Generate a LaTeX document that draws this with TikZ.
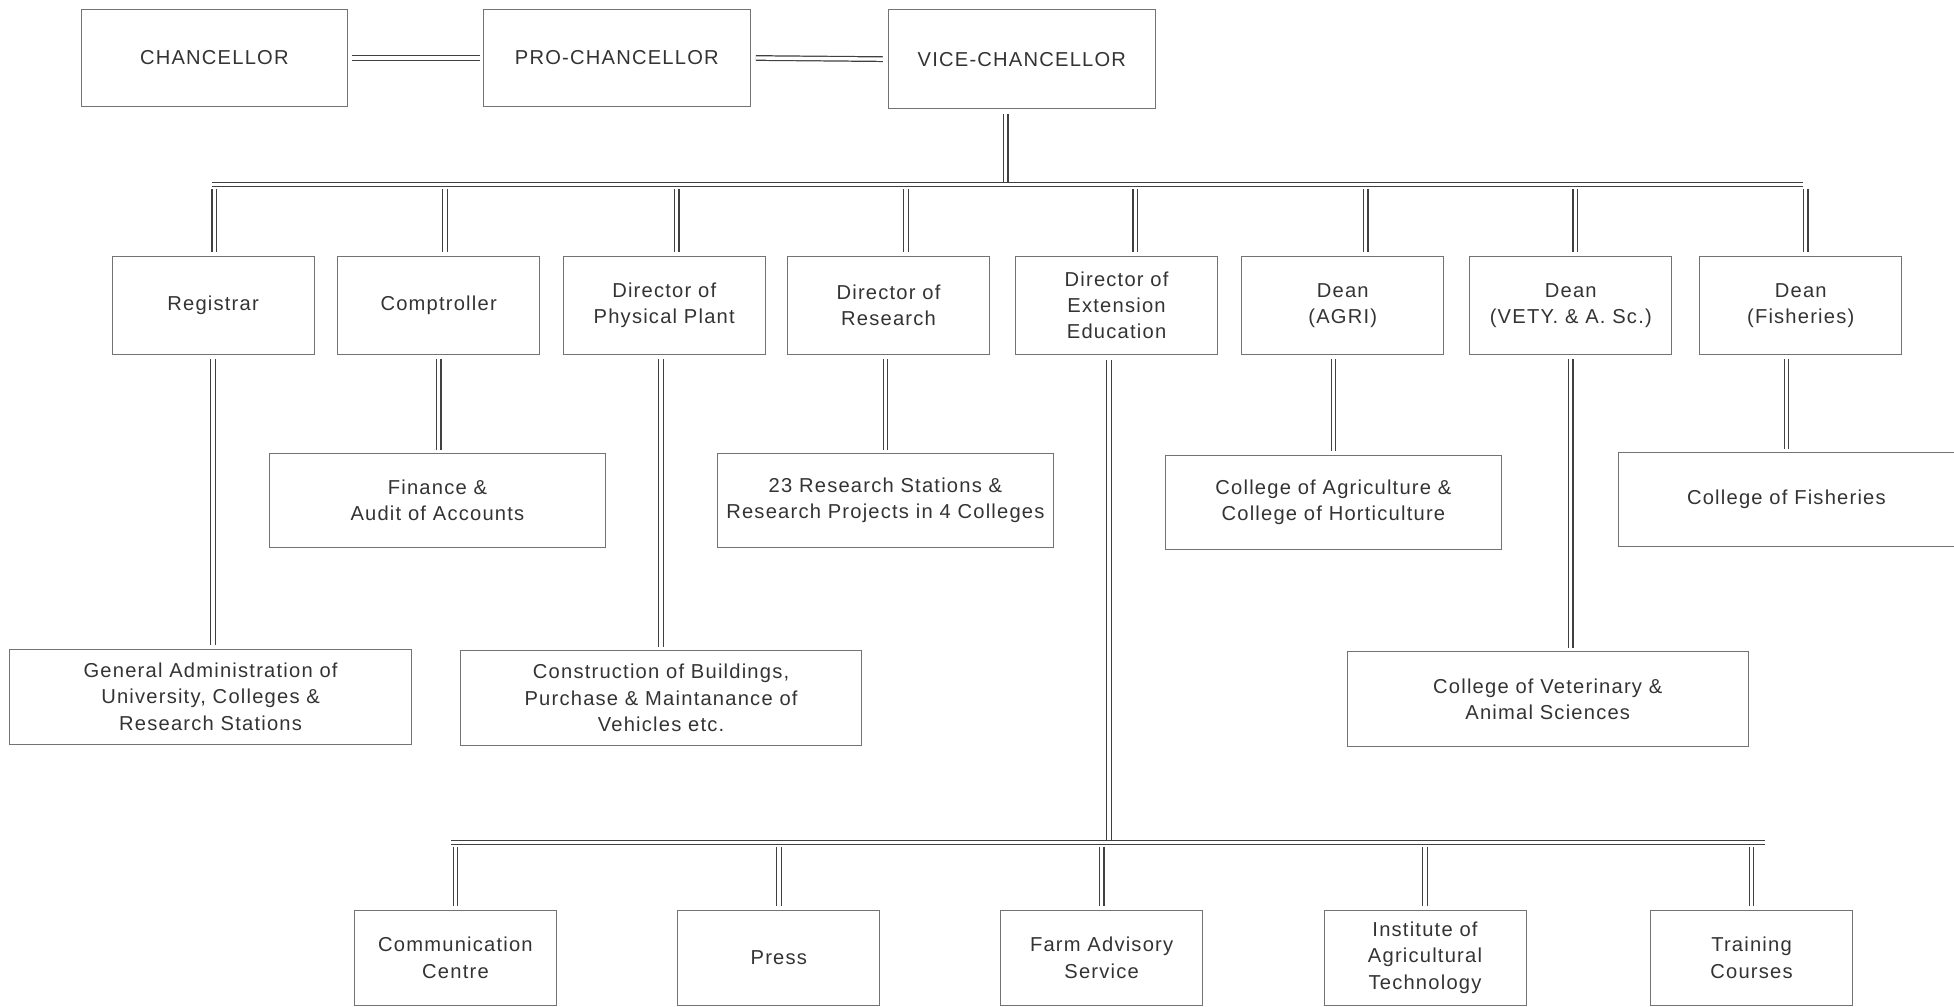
\documentclass[tikz,border=0pt]{standalone}
\usepackage{fontspec}
\newfontfamily\orgfont[LetterSpace=6]{Liberation Sans}
\usetikzlibrary{positioning}

\begin{document}
\begin{tikzpicture}[x=0.025cm, y=-0.025cm,
  font={\orgfont\fontsize{11.5}{15}\selectfont},
  box/.style={draw=black!55, line width=0.5pt, align=center, inner sep=0pt, text=black!80, minimum width=4.05cm, minimum height=1.98cm},
  wide/.style={box, minimum width=6.75cm, minimum height=1.88cm},
  wider/.style={box, minimum width=8.05cm, minimum height=1.9cm},
  low/.style={box, minimum height=1.9cm},
  link/.style={draw=black!75, line width=0.7pt, double=white, double distance=1.9pt},
  drop/.style={link, shorten <=2.5pt, shorten >=2pt}]

  \useasboundingbox (0,0) rectangle (1568,808);

  % Top officers
  \node[box, minimum width=5.35cm, minimum height=1.93cm] (chan) at (172,46.5) {CHANCELLOR};
  \node[box, minimum width=5.35cm, minimum height=1.93cm] (prochan) at (495,46.5) {PRO-CHANCELLOR};
  \node[box, minimum width=5.35cm, minimum height=1.98cm] (vicechan) at (820,47.5) {VICE-CHANCELLOR};
  \draw[link, shorten <=2pt, shorten >=2pt] (chan.east) -- (prochan.west);
  \draw[link, shorten <=3pt, shorten >=3pt] (prochan.east) -- (vicechan.west);

  % Officers under the Vice-Chancellor
  \node[box] (reg) at (171,245) {Registrar};
  \node[box] (comp) at (352,245) {Comptroller};
  \node[box] (dplant) at (533,245) {Director of\\Physical Plant};
  \node[box] (dres) at (713,245) {Director of\\Research};
  \node[box] (dext) at (896,245) {Director of\\Extension\\Education};
  \node[box] (dagri) at (1077.5,245) {Dean\\(AGRI)};
  \node[box] (dvety) at (1260.5,245) {Dean\\(VETY. \& A. Sc.)};
  \node[box] (dfish) at (1445,245) {Dean\\(Fisheries)};

  % Main bus
  \coordinate (busL) at (170,148);
  \coordinate (busR) at (1447,148);
  \coordinate (vcdrop) at (807,148);
  \draw[link] (busL) -- (busR);
  \draw[link, shorten <=3pt, shorten >=1.5pt] (vcdrop |- vicechan.south) -- (vcdrop);

  \coordinate (t1) at (172,148);
  \coordinate (t2) at (357,148);
  \coordinate (t3) at (543,148);
  \coordinate (t4) at (727,148);
  \coordinate (t5) at (911,148);
  \coordinate (t6) at (1096,148);
  \coordinate (t7) at (1264,148);
  \coordinate (t8) at (1449,148);
  \draw[drop] (t1) -- (t1 |- reg.north);
  \draw[drop] (t2) -- (t2 |- comp.north);
  \draw[drop] (t3) -- (t3 |- dplant.north);
  \draw[drop] (t4) -- (t4 |- dres.north);
  \draw[drop] (t5) -- (t5 |- dext.north);
  \draw[drop] (t6) -- (t6 |- dagri.north);
  \draw[drop] (t7) -- (t7 |- dvety.north);
  \draw[drop] (t8) -- (t8 |- dfish.north);

  % Colleges and sections
  \node[wide] (fin) at (351,401.5) {Finance \&\\Audit of Accounts};
  \node[wide] (resst) at (710.5,401.5) {23 Research Stations \&\\Research Projects in 4 Colleges};
  \node[wide] (colagri) at (1070,403) {College of Agriculture \&\\College of Horticulture};
  \node[wide] (colfish) at (1433.5,401) {College of Fisheries};
  \node[wider] (genadm) at (169,559) {General Administration of\\University, Colleges \&\\Research Stations};
  \node[wider] (constr) at (530.5,560) {Construction of Buildings,\\Purchase \& Maintanance of\\Vehicles etc.};
  \node[wider] (colvet) at (1242,561) {College of Veterinary \&\\Animal Sciences};

  \draw[drop] (reg.south) -- (reg.south |- genadm.north);
  \draw[drop] (comp.south) -- (comp.south |- fin.north);
  \draw[drop] (constr.north |- dplant.south) -- (constr.north);
  \draw[drop] (resst.north |- dres.south) -- (resst.north);
  \draw[drop] (dagri.south -| colagri.north) -- (colagri.north);
  \draw[drop] (dvety.south) -- (dvety.south |- colvet.north);
  \draw[drop] (dfish.south -| colfish.north) -- (colfish.north);

  % Extension units
  \node[low] (comm) at (365.5,768.5) {Communication\\Centre};
  \node[low] (press) at (625,768.5) {Press};
  \node[low] (farm) at (884,768.5) {Farm Advisory\\Service};
  \node[low] (inst) at (1143.5,768.5) {Institute of\\Agricultural\\Technology};
  \node[low] (train) at (1405.5,768.5) {Training\\Courses};

  \coordinate (bbusL) at (362,676);
  \coordinate (bbusR) at (1416,676);
  \coordinate (extdrop) at (890,676);
  \draw[link] (bbusL) -- (bbusR);
  \draw[link, shorten <=3pt, shorten >=1.5pt] (extdrop |- dext.south) -- (extdrop);
  \draw[drop] (comm.north |- bbusL) -- (comm.north);
  \draw[drop] (press.north |- bbusL) -- (press.north);
  \draw[drop] (farm.north |- bbusL) -- (farm.north);
  \draw[drop] (inst.north |- bbusL) -- (inst.north);
  \draw[drop] (train.north |- bbusL) -- (train.north);
\end{tikzpicture}
\end{document}
